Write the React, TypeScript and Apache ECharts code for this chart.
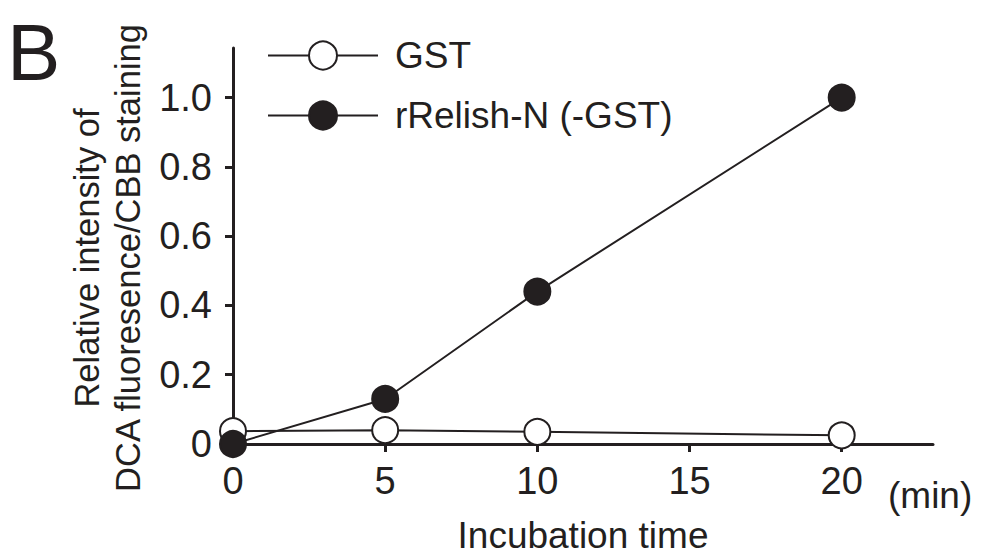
import React, { useEffect, useRef } from "react";
import * as echarts from "echarts";

const timePoints = [0, 5, 10, 20];
const gstValues = [0.037, 0.04, 0.035, 0.025];
const relishValues = [0.0, 0.13, 0.44, 1.0];
const yTicks = [0, 0.2, 0.4, 0.6, 0.8, 1.0];
const xTicks = [0, 5, 10, 15, 20];
const seriesNames = ["GST", "rRelish-N (-GST)"];

const INK = "#231f20";
const FONT = "'Liberation Sans', Arial, Helvetica, sans-serif";

export default function App() {
  const ref = useRef<HTMLDivElement>(null);
  useEffect(() => {
    if (!ref.current) return;
    const chart = echarts.init(ref.current, null, { renderer: "svg" });
    const gstData = timePoints.map((t, i) => [t, gstValues[i]]);
    const relData = timePoints.map((t, i) => [t, relishValues[i]]);
    chart.setOption({
      animation: false,
      backgroundColor: "#ffffff",
      textStyle: { fontFamily: FONT, color: INK },
      grid: { left: 233, right: 48, top: 48, bottom: 104, containLabel: false },
      legend: {
        orient: "vertical",
        left: 262,
        top: 32,
        itemWidth: 110,
        itemHeight: 35,
        itemGap: 23,
        data: seriesNames,
        textStyle: { fontSize: 37, lineHeight: 35, color: INK, fontFamily: FONT, padding: [0, 0, 0, 12] },
      },
      xAxis: {
        type: "value",
        min: 0,
        max: 23,
        interval: 5,
        name: "Incubation time",
        nameLocation: "middle",
        nameGap: 73,
        nameTextStyle: { fontSize: 37, color: INK, fontFamily: FONT },
        axisLine: { show: true, lineStyle: { color: INK, width: 3 } },
        axisTick: { show: true, inside: false, length: 8, lineStyle: { color: INK, width: 3 }, customValues: xTicks },
        axisLabel: { fontSize: 38, color: INK, fontFamily: FONT, margin: 18, customValues: xTicks },
        splitLine: { show: false },
      },
      yAxis: {
        type: "value",
        min: 0,
        max: 1.143,
        interval: 0.2,
        name: "Relative intensity of\nDCA fluoresence/CBB staining",
        nameLocation: "middle",
        nameRotate: 90,
        nameGap: 83,
        nameTextStyle: { fontSize: 34.5, color: INK, fontFamily: FONT, lineHeight: 41, padding: [0, 24, 0, 0] },
        axisLine: { show: true, lineStyle: { color: INK, width: 3 } },
        axisTick: { show: true, inside: false, length: 8, lineStyle: { color: INK, width: 3 }, customValues: yTicks },
        axisLabel: {
          fontSize: 38,
          color: INK,
          fontFamily: FONT,
          margin: 21,
          customValues: yTicks,
          formatter: (v: number) => (v === 0 ? "0" : v.toFixed(1)),
        },
        splitLine: { show: false },
      },
      series: [
        {
          name: seriesNames[0],
          type: "line",
          data: gstData,
          symbol: "circle",
          symbolSize: 26,
          lineStyle: { color: INK, width: 2 },
          itemStyle: { color: "#ffffff", borderColor: INK, borderWidth: 2 },
          z: 2,
        },
        {
          name: seriesNames[1],
          type: "line",
          data: relData,
          symbol: "circle",
          symbolSize: 26,
          lineStyle: { color: INK, width: 2 },
          itemStyle: { color: INK, borderColor: INK, borderWidth: 2 },
          z: 3,
        },
      ],
      graphic: [
        {
          type: "text",
          left: 7,
          top: 12,
          style: { text: "B", fontSize: 80, lineHeight: 60, fill: INK, fontFamily: FONT },
        },
        {
          type: "text",
          x: 888,
          y: 495,
          style: { text: "(min)", fontSize: 37, fill: INK, fontFamily: FONT, verticalAlign: "middle", align: "left" },
        },
      ],
    });
    return () => chart.dispose();
  }, []);
  return (
    <div
      ref={ref}
      style={{ position: "fixed", left: 0, top: 0, width: 981, height: 559 }}
    />
  );
}
